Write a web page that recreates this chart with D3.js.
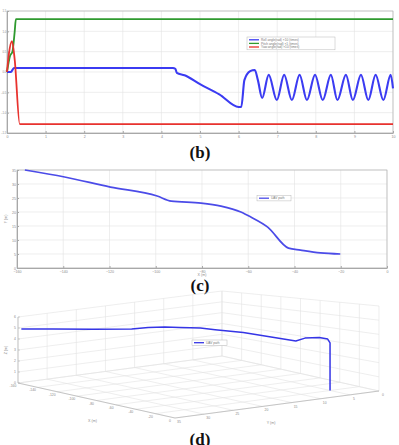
<!DOCTYPE html>
<html>
<head>
<meta charset="utf-8">
<script src="https://cdn.jsdelivr.net/npm/d3@7"></script>
<style>
    body { margin: 0; background: #fff; }
    svg { display: block; font-family: "Liberation Sans", Arial, sans-serif; }
    .caption { font-family: "Liberation Serif", "Times New Roman", serif; font-weight: bold; font-size: 17px; fill: #111; }
</style>
</head>
<body>
<svg id="figure" width="399" height="445"></svg>
<script>
// ---- panel (b): attitude angles over time ----
const timeTicks = [0, 1, 2, 3, 4, 5, 6, 7, 8, 9, 10];
const angleTicks = [-1.5, -1, -0.5, 0, 0.5, 1, 1.5];
const angleNames = ['Roll angle(rad) \u00d710 (times)', 'Pitch angle(rad) \u00d71 (times)', 'Yaw angle(rad) \u00d710 (times)'];
const angleColors = ['#3b3bf2', '#2f9a2f', '#e8322e'];

const rollAngle = [[0, 0], [0.1, 0], [0.18, 0.1], [0.5, 0.1], [2, 0.1], [4.3, 0.1], [4.36, 0.08], [4.4, -0.02],
    [4.6, -0.08], [5, -0.3], [5.5, -0.55], [6, -0.86], [6.07, -0.86], [6.15, -0.2], [6.3, 0.02], [6.42, 0.05],
    [6.5, -0.2], [6.61, -0.64], [6.78, -0.07], [6.99, -0.69], [7.18, -0.07], [7.38, -0.69], [7.58, -0.07],
    [7.77, -0.69], [7.98, -0.07], [8.18, -0.69], [8.39, -0.07], [8.56, -0.69], [8.78, -0.07], [8.96, -0.69],
    [9.17, -0.07], [9.36, -0.69], [9.55, -0.07], [9.75, -0.69], [9.94, -0.07], [10, -0.4]];
const pitchAngle = [[0, 0], [0.08, 0.4], [0.14, 0.5], [0.2, 1.0], [0.23, 1.3], [4.4, 1.3], [10, 1.3]];
const yawAngle = [[0, 0], [0.05, 0.45], [0.13, 0.76], [0.2, 0.3], [0.33, -1.28], [5, -1.28], [10, -1.28]];

// ---- panel (c): ground track ----
const pathX = [-156.6, -139.4, -119.6, -99.4, -93.3, -80.4, -71.8, -63.2, -58.9, -51.6, -42.6, -37.4, -28.8, -20.2];
const pathY = [35, 32.5, 28.9, 25.7, 23.9, 23.2, 22.1, 20.0, 18.2, 14.6, 7.1, 6.4, 5.4, 5.0];
const xTicks = [-160, -140, -120, -100, -80, -60, -40, -20, 0];
const yTicks = [0, 5, 10, 15, 20, 25, 30, 35];
const pathName = 'UAV path';

// ---- panel (d): 3D trajectory (same x,y plus altitude, then the drop) ----
const path3dX = [-156.6, -139.4, -119.6, -99.4, -93.3, -80.4, -71.8, -63.2, -58.9, -51.6, -42.6, -37.4, -28.8, -22.0, -20.2, -20.2, -20.2];
const path3dY = [35, 32.5, 28.9, 25.7, 23.9, 23.2, 22.1, 20.0, 18.2, 14.6, 7.1, 6.4, 5.4, 5.1, 5.0, 5.0, 5.0];
const path3dZ = [4.94, 4.96, 4.91, 4.92, 4.99, 5.1, 5.07, 4.99, 4.8, 4.44, 3.47, 3.7, 3.78, 3.72, 3.45, 3.0, 0];
const zTicks = [0, 1, 2, 3, 4, 5, 6];

const gridColor = '#e3e3e3';
const axisColor = '#a8a8a8';
const labelColor = '#8a8a8a';

const svg = d3.select('#figure');

function styleAxis(sel, size)
{
    sel.select('.domain').attr('stroke', axisColor);
    sel.selectAll('.tick line').attr('stroke', axisColor);
    sel.selectAll('.tick text').attr('font-size', size || 3.6).attr('fill', labelColor);
}

function drawLegend(g, items, box)
{
    const lg = g.append('g').attr('transform', `translate(${box.x},${box.y})`);
    lg.append('rect')
        .attr('width', box.w).attr('height', items.length * box.row + 2)
        .attr('fill', '#fff').attr('stroke', '#b8b8b8').attr('stroke-width', 0.5);
    items.forEach((d, i) => {
        const cy = 1 + box.row * (i + 0.5);
        lg.append('line')
            .attr('x1', 2).attr('x2', 12).attr('y1', cy).attr('y2', cy)
            .attr('stroke', d.color).attr('stroke-width', 1.3);
        lg.append('text')
            .attr('x', 14).attr('y', cy + 1.1)
            .attr('font-size', 3.2).attr('fill', '#777')
            .text(d.name);
    });
}

// ---------------- (b) ----------------
function drawAnglePlot()
{
    const g = svg.append('g');
    const x = d3.scaleLinear().domain([0, 10]).range([7, 393]);
    const y = d3.scaleLinear().domain([-1.5, 1.5]).range([133, 11]);

    g.append('g').selectAll('line.vgrid').data(timeTicks).join('line')
        .attr('x1', d => x(d)).attr('x2', d => x(d)).attr('y1', y.range()[0]).attr('y2', y.range()[1])
        .attr('stroke', gridColor).attr('stroke-width', 0.6);
    g.append('g').selectAll('line.hgrid').data(angleTicks).join('line')
        .attr('x1', x.range()[0]).attr('x2', x.range()[1]).attr('y1', d => y(d)).attr('y2', d => y(d))
        .attr('stroke', gridColor).attr('stroke-width', 0.6);

    g.append('rect')
        .attr('x', x.range()[0]).attr('y', y.range()[1])
        .attr('width', x.range()[1] - x.range()[0]).attr('height', y.range()[0] - y.range()[1])
        .attr('fill', 'none').attr('stroke', axisColor).attr('stroke-width', 0.6);

    g.append('g').attr('transform', `translate(0,${y.range()[0]})`)
        .call(d3.axisBottom(x).tickValues(timeTicks).tickSizeInner(-2).tickSizeOuter(0).tickPadding(2))
        .call(styleAxis);
    g.append('g').attr('transform', `translate(${x.range()[0]},0)`)
        .call(d3.axisLeft(y).tickValues(angleTicks).tickSizeInner(-2).tickSizeOuter(0).tickPadding(0.6))
        .call(styleAxis, 2.8);

    const line = d3.line().x(d => x(d[0])).y(d => y(d[1])).curve(d3.curveMonotoneX);
    [rollAngle, pitchAngle, yawAngle].forEach((series, i) => {
        g.append('path')
            .datum(series)
            .attr('fill', 'none')
            .attr('stroke', angleColors[i])
            .attr('stroke-width', i === 0 ? 2.1 : 1.8)
            .attr('stroke-linejoin', 'round')
            .attr('d', line);
    });

    drawLegend(g, angleNames.map((n, i) => ({name: n, color: angleColors[i]})), {x: 247, y: 37, w: 88, row: 3.6});

    svg.append('text').attr('class', 'caption').attr('x', 200).attr('y', 158)
        .attr('text-anchor', 'middle').text('(b)');
}

// ---------------- (c) ----------------
function drawPathPlot()
{
    const g = svg.append('g');
    const x = d3.scaleLinear().domain([-160, 0]).range([17, 387]);
    const y = d3.scaleLinear().domain([0, 35]).range([268, 170]);

    g.append('g').selectAll('line.vgrid').data(xTicks).join('line')
        .attr('x1', d => x(d)).attr('x2', d => x(d)).attr('y1', y.range()[0]).attr('y2', y.range()[1])
        .attr('stroke', gridColor).attr('stroke-width', 0.6);
    g.append('g').selectAll('line.hgrid').data(yTicks).join('line')
        .attr('x1', x.range()[0]).attr('x2', x.range()[1]).attr('y1', d => y(d)).attr('y2', d => y(d))
        .attr('stroke', gridColor).attr('stroke-width', 0.6);

    g.append('rect')
        .attr('x', x.range()[0]).attr('y', y.range()[1])
        .attr('width', x.range()[1] - x.range()[0]).attr('height', y.range()[0] - y.range()[1])
        .attr('fill', 'none').attr('stroke', axisColor).attr('stroke-width', 0.6);

    g.append('g').attr('transform', `translate(0,${y.range()[0]})`)
        .call(d3.axisBottom(x).tickValues(xTicks).tickSizeInner(-2).tickSizeOuter(0).tickPadding(2.5))
        .call(styleAxis);
    g.append('g').attr('transform', `translate(${x.range()[0]},0)`)
        .call(d3.axisLeft(y).tickValues(yTicks).tickSizeInner(-2).tickSizeOuter(0).tickPadding(1))
        .call(styleAxis);

    g.append('text').attr('x', 202).attr('y', 276).attr('text-anchor', 'middle')
        .attr('font-size', 3.6).attr('fill', labelColor).text('X (m)');
    g.append('text').attr('transform', 'translate(7,219) rotate(-90)').attr('text-anchor', 'middle')
        .attr('font-size', 3.6).attr('fill', labelColor).text('Y (m)');

    const pts = pathX.map((d, i) => [d, pathY[i]]);
    g.append('path')
        .datum(pts)
        .attr('fill', 'none')
        .attr('stroke', '#4b4be8')
        .attr('stroke-width', 1.7)
        .attr('d', d3.line().x(d => x(d[0])).y(d => y(d[1])).curve(d3.curveMonotoneX));

    drawLegend(g, [{name: pathName, color: '#4b4be8'}], {x: 257, y: 195.5, w: 34, row: 3.4});

    svg.append('text').attr('class', 'caption').attr('x', 200).attr('y', 291)
        .attr('text-anchor', 'middle').text('(c)');
}

// ---------------- (d) ----------------
function drawPath3d()
{
    const g = svg.append('g');
    // floor corners: left, front, right (screen); the z axis stands on the left corner
    const L = [18, 383], F = [175, 418], R = [379, 391];
    const u = d3.scaleLinear().domain([-160, 0]).range([0, 1]);
    const v = d3.scaleLinear().domain([35, 0]).range([0, 1]);
    const w = d3.scaleLinear().domain([0, 6]).range([0, 1]);

    // rough perspective: walls get taller towards the front/right
    const proj = (a, b, c) => {
        const h = 66 + 20 * a - 1 * b;
        return [L[0] + a * (F[0] - L[0]) + b * (R[0] - F[0]),
                L[1] + a * (F[1] - L[1]) + b * (R[1] - F[1]) - c * h];
    };
    const seg = (p, q) => g.append('line')
        .attr('x1', p[0]).attr('y1', p[1]).attr('x2', q[0]).attr('y2', q[1]);

    const grid = [];
    // back-left wall (a = 0)
    yTicks.forEach(t => grid.push([proj(0, v(t), 0), proj(0, v(t), 1)]));
    zTicks.forEach(t => grid.push([proj(0, 0, w(t)), proj(0, 1, w(t))]));
    // back-right wall (b = 1)
    xTicks.forEach(t => grid.push([proj(u(t), 1, 0), proj(u(t), 1, 1)]));
    zTicks.forEach(t => grid.push([proj(0, 1, w(t)), proj(1, 1, w(t))]));
    // floor
    xTicks.forEach(t => grid.push([proj(u(t), 0, 0), proj(u(t), 1, 0)]));
    yTicks.forEach(t => grid.push([proj(0, v(t), 0), proj(1, v(t), 0)]));
    grid.forEach(d => seg(d[0], d[1]).attr('stroke', gridColor).attr('stroke-width', 0.6));

    // axes on the front edges and the left vertical edge
    [[proj(0, 0, 0), proj(1, 0, 0)], [proj(1, 0, 0), proj(1, 1, 0)], [proj(0, 0, 0), proj(0, 0, 1)]]
        .forEach(d => seg(d[0], d[1]).attr('stroke', axisColor).attr('stroke-width', 0.6));

    xTicks.forEach(t => {
        const p = proj(u(t), 0, 0);
        g.append('text').attr('x', p[0] - 5).attr('y', p[1] + 4).attr('text-anchor', 'middle')
            .attr('font-size', 3.4).attr('fill', labelColor).text(t);
    });
    yTicks.forEach(t => {
        const p = proj(1, v(t), 0);
        g.append('text').attr('x', p[0] + 4).attr('y', p[1] + 5).attr('text-anchor', 'middle')
            .attr('font-size', 3.4).attr('fill', labelColor).text(t);
    });
    zTicks.forEach(t => {
        const p = proj(0, 0, w(t));
        seg(p, [p[0] + 2, p[1]]).attr('stroke', axisColor).attr('stroke-width', 0.5);
        g.append('text').attr('x', p[0] - 2).attr('y', p[1] + 1.2).attr('text-anchor', 'end')
            .attr('font-size', 3.4).attr('fill', labelColor).text(t);
    });

    const xl = proj(0.5, 0, 0), yl = proj(1, 0.5, 0);
    g.append('text').attr('x', xl[0] - 4).attr('y', xl[1] + 21).attr('text-anchor', 'middle')
        .attr('font-size', 3.6).attr('fill', labelColor).text('X (m)');
    g.append('text').attr('x', yl[0] - 6).attr('y', yl[1] + 19).attr('text-anchor', 'middle')
        .attr('font-size', 3.6).attr('fill', labelColor).text('Y (m)');
    g.append('text').attr('transform', 'translate(7,350) rotate(-90)').attr('text-anchor', 'middle')
        .attr('font-size', 3.6).attr('fill', labelColor).text('Z (m)');

    const pts = path3dX.map((d, i) => proj(u(d), v(path3dY[i]), w(path3dZ[i])));
    g.append('path')
        .datum(pts)
        .attr('fill', 'none')
        .attr('stroke', '#3535e6')
        .attr('stroke-width', 1.5)
        .attr('stroke-linejoin', 'round')
        .attr('d', d3.line().curve(d3.curveLinear));

    drawLegend(g, [{name: pathName, color: '#3535e6'}], {x: 192, y: 340, w: 35, row: 3.4});

    svg.append('text').attr('class', 'caption').attr('x', 200).attr('y', 445)
        .attr('text-anchor', 'middle').text('(d)');
}

drawAnglePlot();
drawPathPlot();
drawPath3d();
</script>
</body>
</html>
